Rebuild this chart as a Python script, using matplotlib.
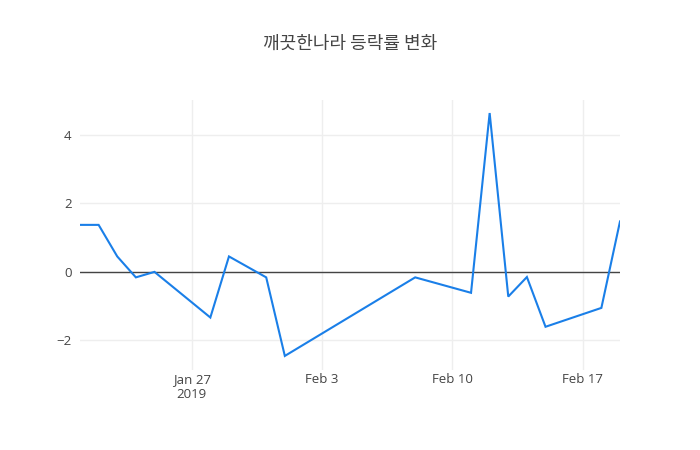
import matplotlib
matplotlib.use("Agg")
import matplotlib.pyplot as plt
import matplotlib.dates as mdates
import numpy as np
import pandas as pd

plt.rcParams['font.family'] = ['Noto Sans CJK KR', 'DejaVu Sans']

dates = ["2019-01-21", "2019-01-22", "2019-01-23", "2019-01-24", "2019-01-25",
         "2019-01-28", "2019-01-29", "2019-01-31", "2019-02-01", "2019-02-08",
         "2019-02-11", "2019-02-12", "2019-02-13", "2019-02-14", "2019-02-15",
         "2019-02-18", "2019-02-19"]
values = [1.37, 1.37, 0.45, -0.16, 0.0,
          -1.33, 0.45, -0.16, -2.45, -0.16,
          -0.61, 4.63, -0.72, -0.15, -1.60,
          -1.05, 1.47]
title = "깨끗한나라 등락률 변화"
y_ticks = [-2, 0, 2, 4]
x_ticks = ["2019-01-27", "2019-02-03", "2019-02-10", "2019-02-17"]
x_tick_labels = ["Jan 27\n2019", "Feb 3", "Feb 10", "Feb 17"]

x = pd.to_datetime(dates)

fig = plt.figure(figsize=(7, 4.5), dpi=100)
ax = fig.add_axes([80/700, 80/450, 540/700, 270/450])

ax.plot(x, values, color='#1a7fe8', linewidth=1.5, zorder=3, solid_joinstyle='miter')
ax.axhline(0, color='#444444', linewidth=1, zorder=2)

ax.set_xlim(x[0], x[-1])
ax.set_ylim(-2.86, 5.01)

ax.set_yticks(y_ticks)
ax.set_yticklabels(["\u22122", "0", "2", "4"])
ax.set_xticks(pd.to_datetime(x_ticks))
ax.set_xticklabels(x_tick_labels, linespacing=1.25)

ax.grid(True, color='#eeeeee', linewidth=1, zorder=0)
for s in ax.spines.values():
    s.set_visible(False)
ax.tick_params(axis='both', length=0, colors='#444444', labelsize=9.5)
ax.tick_params(axis='x', pad=2)
ax.tick_params(axis='y', pad=6)
for lab in ax.get_xticklabels() + ax.get_yticklabels():
    lab.set_family(['Open Sans', 'DejaVu Sans'])

fig.text(350/700, 1 - 44/450, title, ha='center', va='center', fontsize=13,
         color='#444444')

fig.savefig("out.png", dpi=100)
